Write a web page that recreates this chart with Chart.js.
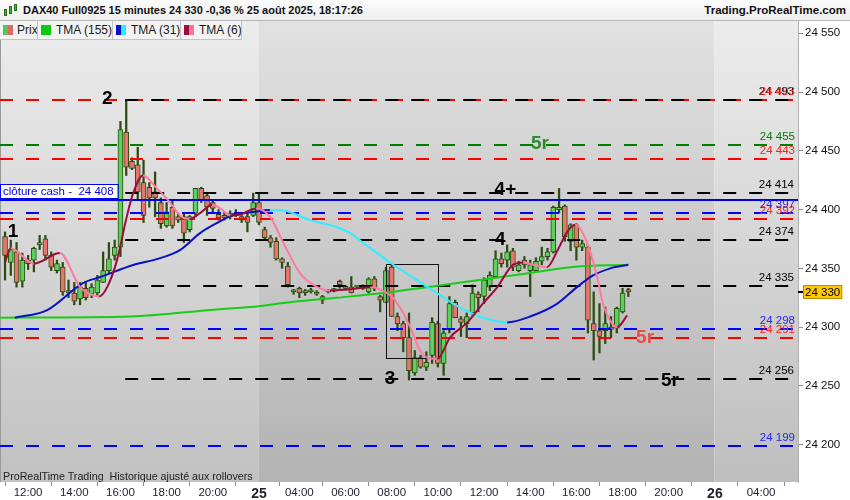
<!DOCTYPE html>
<html>
<head>
<meta charset="utf-8">
<script src="https://cdn.jsdelivr.net/npm/chart.js@4.4.1/dist/chart.umd.min.js"></script>
<style>
  body { margin:0; background:#fff; font-family:"Liberation Sans", Arial, sans-serif; }
  #wrap { position:relative; width:850px; height:500px; overflow:hidden; }
  #c { position:absolute; left:0; top:0; }
  #head { position:absolute; left:0; top:0; width:850px; height:21px; box-sizing:border-box;
          background:linear-gradient(#fcfcfc,#eeeeee); border-bottom:1px solid #b8b8b8; color:#111;
          font-weight:bold; font-size:11px; white-space:nowrap; }
  #head .t { position:absolute; left:23px; top:4px; }
  #head .r { position:absolute; right:4px; top:4px; font-size:11.5px; }
  #icon { position:absolute; left:3px; top:3px; width:15px; height:15px; }
  #icon i { position:absolute; width:3px; background:#3dbb3d; border:1px solid #2a6d1a; box-sizing:border-box; }
  #legend { position:absolute; left:0; top:21px; height:19px; display:flex; font-size:12px; color:#1a1a1a; white-space:nowrap; }
  #legend .it { flex:0 0 auto; height:19px; box-sizing:border-box; background:#f3f3f3; border-right:1px solid #c2c2c2;
                border-bottom:1px solid #c2c2c2; display:flex; align-items:center; padding-left:3px; overflow:hidden; }
  #legend .sw { flex:0 0 auto; display:inline-block; width:5px; height:10px; }
  #legend .sq { flex:0 0 auto; display:inline-block; width:10px; height:10px; margin-right:5px; }
  #foot { position:absolute; left:3px; top:470px; font-size:10.7px; color:#222; white-space:nowrap; }
</style>
</head>
<body>
<div id="wrap">
  <canvas id="c" width="850" height="500"></canvas>
  <div id="head">
    <div id="icon"><i style="left:1px;top:6px;height:7px"></i><i style="left:6px;top:3px;height:8px"></i><i style="left:11px;top:1px;height:7px"></i></div>
    <span class="t">DAX40 Full0925 15 minutes 24 330 -0,36 % 25 août 2025, 18:17:26</span>
    <span class="r">Trading.ProRealTime.com</span>
  </div>
  <div id="legend">
    <div class="it" style="width:38px"><span class="sw" style="background:#4fc94f"></span><span class="sw" style="background:#e06868;margin-right:4px"></span>Prix</div>
    <div class="it" style="width:75px"><span class="sq" style="background:#11c811"></span>TMA (155)</div>
    <div class="it" style="width:68px"><span class="sw" style="background:#0a10c8"></span><span class="sw" style="background:#22f0ff;margin-right:5px"></span>TMA (31)</div>
    <div class="it" style="width:61px"><span class="sw" style="background:#9a0c3c"></span><span class="sw" style="background:#ff6f98;margin-right:5px"></span>TMA (6)</div>
  </div>
  <div id="foot">ProRealTime Trading&nbsp; Historique ajusté aux rollovers</div>
</div>
<script>
// 15 minute bars, index 0 = first bar on the left
var opens = [24377,24355,24364,24339,24357,24357,24370,24375,24361,24348,24351,24331,24329,24324,24333,24328,24329,24338,24348,24361,
  24368,24466,24441,24438,24423,24419,24415,24406,24386,24402,24394,24394,24383,24397,24418,24412,24406,24396,24395,24394,
  24395,24394,24394,24395,24406,24383,24376,24373,24358,24352,24330,24333,24331,24330,24329,24326,24330,24331,24339,24334,
  24334,24334,24333,24330,24341,24326,24321,24351,24309,24303,24291,24261,24274,24266,24276,24303,24269,24298,24321,24307,
  24303,24312,24328,24326,24334,24343,24358,24357,24365,24348,24357,24348,24348,24356,24360,24364,24400,24403,24373,24387,
  24368,24368,24303,24297,24297,24300,24299,24313,24332];
var highs = [24381,24374,24372,24363,24361,24368,24378,24378,24364,24357,24355,24340,24338,24338,24338,24337,24344,24364,24372,24374,
  24475,24493,24444,24453,24442,24423,24432,24410,24406,24408,24397,24397,24395,24418,24419,24414,24408,24400,24398,24399,
  24400,24395,24397,24414,24414,24385,24378,24376,24359,24355,24332,24334,24332,24333,24331,24327,24332,24333,24340,24335,
  24343,24335,24336,24342,24343,24327,24351,24353,24312,24305,24312,24280,24276,24279,24308,24305,24297,24326,24323,24309,
  24312,24336,24330,24342,24347,24365,24363,24370,24367,24356,24360,24357,24359,24368,24367,24403,24418,24404,24388,24388,
  24374,24370,24330,24320,24317,24309,24317,24333,24333];
var lows = [24340,24344,24334,24334,24349,24347,24366,24357,24348,24346,24327,24325,24319,24319,24323,24325,24327,24338,24346,24357,
  24360,24429,24434,24408,24389,24402,24394,24384,24385,24384,24389,24372,24381,24394,24406,24395,24397,24391,24391,24392,
  24394,24389,24381,24394,24387,24374,24368,24357,24350,24334,24328,24325,24327,24329,24327,24320,24329,24330,24333,24332,
  24329,24333,24332,24329,24331,24313,24321,24309,24297,24279,24255,24259,24265,24263,24269,24266,24259,24295,24308,24292,
  24291,24310,24313,24320,24331,24342,24351,24351,24348,24347,24350,24326,24347,24353,24357,24363,24397,24373,24365,24357,
  24365,24295,24272,24278,24286,24291,24295,24312,24326];
var closes = [24361,24366,24338,24357,24354,24367,24372,24361,24351,24354,24330,24329,24322,24334,24325,24334,24340,24348,24358,24368,
  24468,24436,24435,24415,24395,24410,24410,24388,24398,24386,24391,24380,24394,24418,24408,24402,24401,24393,24393,24397,
  24397,24391,24389,24406,24389,24376,24372,24358,24355,24336,24331,24329,24329,24331,24328,24323,24331,24332,24336,24333,
  24329,24335,24335,24341,24333,24323,24348,24309,24303,24291,24263,24274,24266,24270,24304,24269,24295,24320,24308,24304,
  24309,24329,24325,24340,24344,24358,24354,24364,24351,24353,24353,24353,24356,24360,24364,24402,24402,24377,24387,24368,
  24371,24306,24297,24292,24303,24298,24316,24329,24330];

// triangular moving averages (bar index, price)
var tma155X = [-0.9, 21.7, 36.7, 42.5, 50, 57.5, 65.5, 73.1, 80.6, 91, 98, 108];
var tma155Y = [24308, 24309, 24315, 24317, 24321.5, 24325, 24329, 24334, 24339, 24346, 24351, 24353];
var tma31X = [1.7, 7.3, 13.5, 16.5, 22.2, 26.9, 30.3, 33.8, 36.7, 39.5, 43, 45.9, 48.2, 52.9, 57.5, 59.8, 62, 66.7, 71.4, 75.4, 79.4, 82.8, 87, 91, 95.7, 99.1, 101.9, 104.9, 108];
var tma31Y = [24308, 24314.5, 24337.5, 24342.6, 24352.8, 24358.7, 24365.5, 24380, 24388.5, 24395.3, 24397.9, 24399.6, 24399.2, 24391, 24385, 24380, 24372, 24355, 24340, 24327, 24315, 24308, 24304, 24309, 24320, 24334, 24344, 24350, 24353];
var tma6X = [0, 1, 5, 9.5, 13, 15.3, 16.3, 17.7, 19.4, 21.1, 22.2, 23.9, 26.3, 28.6, 30.3, 32, 33.8, 35.9, 37.3, 39, 40.9, 43.5, 45.9, 48.2, 51.1, 54.1, 56.3, 59.3, 63.3, 64.5, 67.2, 69, 70.2, 71.9, 73.1, 74.9, 77.1, 80.1, 82.8, 85.3, 88, 89.8, 91.5, 93.9, 95.7, 97.4, 98.8, 100.5, 102.6, 103.6, 105.2, 106.1, 107.8];
var tma6Y = [24355, 24367, 24354, 24363, 24334, 24327, 24326, 24334, 24357, 24394, 24414, 24429, 24418, 24406, 24395, 24392, 24397, 24404, 24401, 24395, 24396, 24401, 24394, 24372, 24346, 24334, 24331, 24332, 24334, 24333, 24325, 24312, 24300, 24280, 24274, 24273, 24291, 24304, 24320, 24334, 24353, 24355, 24353, 24351, 24365, 24381, 24387, 24376, 24343, 24320, 24303, 24300, 24310];

var tickBars = [4, 12, 20, 28, 36, 44, 51, 59, 67, 75, 83, 91, 99, 107, 115, 123, 131];
var tickLabels = ['12:00','14:00','16:00','18:00','20:00','25','04:00','06:00','08:00','10:00','12:00','14:00','16:00','18:00','20:00','26','04:00'];
var dayLabels = ['25', '26'];
var sessionStarts = [44, 123];
var priceTicks = [24200, 24250, 24300, 24350, 24400, 24450, 24500, 24550];

var redLevels = [24493, 24443, 24392, 24291];
var greenLevels = [24455];
var blueLevels = [24397, 24298, 24199];
var blackLevels = [24493, 24414, 24374, 24335, 24256];
var blackFromBar = 21;
var cashClose = 24408;
var lastPrice = 24330;

var waveText = ['1', '2', '3', '4+', '4', '5r', '5r', '5r'];
var waveBar = [1.4, 17.7, 66.7, 86.7, 85.8, 92.7, 110.9, 115.2];
var wavePrice = [24381, 24494, 24256, 24417, 24374, 24456, 24291, 24254];
var waveKind = ['k', 'k', 'k', 'k', 'k', 'g', 'r', 'k'];

var boxBars = [66, 75.1];
var boxPrices = [24273.4, 24353.4];

var FONT = "'Liberation Sans', Arial, sans-serif";
Chart.defaults.font.family = FONT;

function fmt(v) {
  var s = String(Math.round(v));
  return s.slice(0, 2) + ' ' + s.slice(2);
}

function pts(xs, ys) {
  return xs.map(function (x, i) { return {x: x, y: ys[i]}; });
}

function twoTone(up, down) {
  return function (c) { return c.p1.parsed.y >= c.p0.parsed.y ? up : down; };
}

var levelColor = {r: '#ff0000', g: '#008000', b: '#0000ff', k: '#000000'};
var waveColor = {k: '#000000', g: '#2e8b2e', r: '#ee4a4a'};

function dash(ctx, x0, x1, y, color) {
  ctx.save();
  ctx.strokeStyle = color;
  ctx.lineWidth = 2;
  ctx.setLineDash([13, 13]);
  ctx.beginPath();
  ctx.moveTo(x0, y);
  ctx.lineTo(x1, y);
  ctx.stroke();
  ctx.restore();
}

var decor = {
  id: 'decor',
  beforeDraw: function (chart) {
    var ctx = chart.ctx, a = chart.chartArea, sx = chart.scales.x;
    var cuts = [a.left, sx.getPixelForValue(sessionStarts[0] - 0.1), sx.getPixelForValue(sessionStarts[1] - 0.1), a.right];
    var tones = [['#ececec', '#c1c1c1'], ['#e1e1e1', '#b3b3b3'], ['#ececec', '#bebebe']];
    for (var i = 0; i < 3; i++) {
      var g = ctx.createLinearGradient(0, a.top, 0, a.bottom);
      g.addColorStop(0, tones[i][0]);
      g.addColorStop(1, tones[i][1]);
      ctx.fillStyle = g;
      ctx.fillRect(cuts[i], a.top, cuts[i + 1] - cuts[i], a.bottom - a.top);
    }
    ctx.fillStyle = '#9a9a9a';
    ctx.fillRect(a.left, a.top, 1, a.bottom - a.top);
  },
  afterDatasetDraw: function (chart, args) {
    if (args.meta.label !== 'body') return;
    var ctx = chart.ctx, a = chart.chartArea, sx = chart.scales.x, sy = chart.scales.y;
    var yy = function (v) { return Math.round(sy.getPixelForValue(v)); };
    redLevels.forEach(function (v) { dash(ctx, a.left, a.right, yy(v), levelColor.r); });
    greenLevels.forEach(function (v) { dash(ctx, a.left, a.right, yy(v), levelColor.g); });
    blueLevels.forEach(function (v) { dash(ctx, a.left, a.right, yy(v), levelColor.b); });
    var bx = sx.getPixelForValue(blackFromBar) - 1;
    blackLevels.forEach(function (v) { dash(ctx, bx, a.right, yy(v), levelColor.k); });
    // cash close
    ctx.save();
    ctx.strokeStyle = '#0000ee';
    ctx.lineWidth = 2;
    ctx.beginPath();
    ctx.moveTo(a.left, yy(cashClose));
    ctx.lineTo(a.right, yy(cashClose));
    ctx.stroke();
    // box around the dip
    var x0 = Math.round(sx.getPixelForValue(boxBars[0])) + 0.5, x1 = Math.round(sx.getPixelForValue(boxBars[1])) + 0.5;
    var y0 = Math.round(sy.getPixelForValue(boxPrices[1])) + 0.5, y1 = Math.round(sy.getPixelForValue(boxPrices[0])) + 0.5;
    ctx.strokeStyle = '#111';
    ctx.lineWidth = 1;
    ctx.strokeRect(x0, y0, x1 - x0, y1 - y0);
    ctx.restore();
  },
  afterDatasetsDraw: function (chart) {
    var ctx = chart.ctx, a = chart.chartArea, sx = chart.scales.x, sy = chart.scales.y;
    var yy = function (v) { return Math.round(sy.getPixelForValue(v)); };
    ctx.save();
    ctx.font = '11.5px ' + FONT;
    ctx.textAlign = 'right';
    ctx.textBaseline = 'bottom';
    var rx = a.right - 3;
    var label = function (v, col, dx) { ctx.fillStyle = col; ctx.fillText(fmt(v), rx + (dx || 0), yy(v) - 2); };
    blackLevels.forEach(function (v) { label(v, levelColor.k, -1); });
    redLevels.forEach(function (v) { label(v, '#ff2020'); });
    greenLevels.forEach(function (v) { label(v, levelColor.g); });
    blueLevels.forEach(function (v) { label(v, '#2222ff'); });

    // cash close tag
    var cy = yy(cashClose);
    ctx.font = '11.5px ' + FONT;
    ctx.textAlign = 'left';
    ctx.textBaseline = 'middle';
    var txt = 'clôture cash -  ' + fmt(cashClose);
    var w = ctx.measureText(txt).width + 7;
    ctx.fillStyle = '#ffffff';
    ctx.fillRect(a.left, cy - 16, w, 15);
    ctx.strokeStyle = '#0000ee';
    ctx.lineWidth = 1;
    ctx.strokeRect(a.left + 0.5, cy - 15.5, w, 14);
    ctx.fillStyle = '#0000ee';
    ctx.fillText(txt, a.left + 3, cy - 8);

    // wave marks
    ctx.font = 'bold 19px ' + FONT;
    ctx.textAlign = 'center';
    waveText.forEach(function (t, i) {
      ctx.fillStyle = waveColor[waveKind[i]];
      ctx.fillText(t, sx.getPixelForValue(waveBar[i]), sy.getPixelForValue(wavePrice[i]));
    });

    // last price tag on the axis
    var ly = yy(lastPrice);
    ctx.fillStyle = '#000';
    ctx.fillRect(a.right, ly - 1, 5, 2);
    ctx.font = '11.5px ' + FONT;
    ctx.textAlign = 'left';
    var tw = ctx.measureText(fmt(lastPrice)).width + 4;
    ctx.fillStyle = '#ffc800';
    ctx.fillRect(a.right + 5, ly - 7, tw, 14);
    ctx.strokeStyle = '#b38f00';
    ctx.strokeRect(a.right + 5.5, ly - 6.5, tw - 1, 13);
    ctx.fillStyle = '#000';
    ctx.fillText(fmt(lastPrice), a.right + 7, ly + 0.5);
    ctx.restore();
  }
};

var idx = opens.map(function (o, i) { return i; });
var UP = '#5ad35a', DOWN = '#e8756d', EDGE = '#2c4c12';

new Chart(document.getElementById('c'), {
  type: 'bar',
  data: {
    datasets: [
      {
        type: 'line', label: 'TMA (6)', order: 0,
        data: pts(tma6X, tma6Y),
        borderWidth: 2, pointRadius: 0, cubicInterpolationMode: 'monotone',
        borderColor: '#ff6f98',
        segment: {borderColor: twoTone('#9a0c3c', '#ff7aa0')}
      },
      {
        type: 'line', label: 'TMA (31)', order: 1,
        data: pts(tma31X, tma31Y),
        borderWidth: 2, pointRadius: 0, cubicInterpolationMode: 'monotone',
        borderColor: '#0a10c8',
        segment: {borderColor: twoTone('#0a10c8', '#30eeff')}
      },
      {
        type: 'line', label: 'TMA (155)', order: 2,
        data: pts(tma155X, tma155Y),
        borderWidth: 2, pointRadius: 0, cubicInterpolationMode: 'monotone',
        borderColor: '#19cc19'
      },
      {
        label: 'body', order: 3, grouped: false,
        data: idx.map(function (i) { return {x: i, y: [opens[i], closes[i]]}; }),
        backgroundColor: function (c) { return closes[c.dataIndex] >= opens[c.dataIndex] ? UP : DOWN; },
        borderColor: EDGE, borderWidth: 1, borderSkipped: false,
        barThickness: 5, minBarLength: 2
      },
      {
        label: 'wick', order: 4, grouped: false,
        data: idx.map(function (i) { return {x: i, y: [lows[i], highs[i]]}; }),
        backgroundColor: EDGE, borderWidth: 0,
        barThickness: 1.6
      }
    ]
  },
  options: {
    responsive: false,
    animation: false,
    devicePixelRatio: 1,
    layout: {padding: {top: 20, left: 0, right: 0, bottom: 0}},
    plugins: {legend: {display: false}, tooltip: {enabled: false}},
    scales: {
      x: {
        type: 'linear', offset: false, min: -0.87, max: 137.4,
        afterBuildTicks: function (s) { s.ticks = tickBars.map(function (v) { return {value: v}; }); },
        afterFit: function (s) { s.height = 18; },
        grid: {drawOnChartArea: false, tickLength: 4, color: '#8a8a8a'},
        border: {display: false},
        ticks: {
          autoSkip: false, maxRotation: 0, padding: 0, color: '#1e1e2e',
          callback: function (v) { return tickLabels[tickBars.indexOf(v)]; },
          font: function (c) {
            var lab = c.tick ? tickLabels[tickBars.indexOf(c.tick.value)] : '';
            return dayLabels.indexOf(lab) >= 0 ? {size: 14, weight: 'bold', family: FONT} : {size: 11.5, family: FONT};
          }
        }
      },
      y: {
        type: 'linear', position: 'right', min: 24168.2, max: 24561.3,
        afterBuildTicks: function (s) { s.ticks = priceTicks.map(function (v) { return {value: v}; }); },
        afterFit: function (s) { s.width = 52; },
        grid: {drawOnChartArea: false, tickLength: 5, color: '#8a8a8a'},
        border: {display: true, color: '#b0b0b0'},
        ticks: {padding: 2, color: '#111', font: {size: 11.5, family: FONT}, callback: function (v) { return fmt(v); }}
      }
    }
  },
  plugins: [decor]
});
</script>
</body>
</html>
